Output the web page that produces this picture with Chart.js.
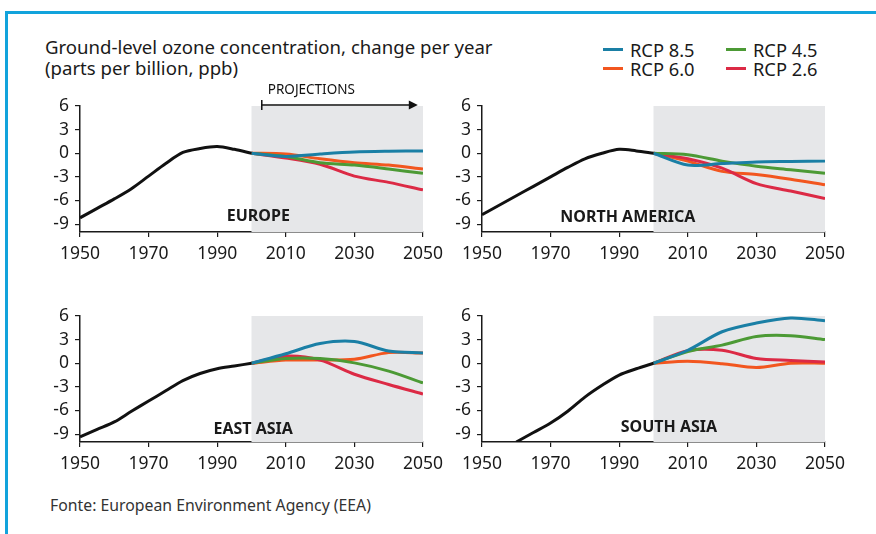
<!DOCTYPE html>
<html>
<head>
<meta charset="utf-8">
<script src="https://cdn.jsdelivr.net/npm/chart.js@4/dist/chart.umd.min.js"></script>
<style>
  html, body { margin: 0; padding: 0; background: #fff; }
  body { width: 876px; height: 534px; position: relative; overflow: hidden;
         font-family: 'Noto Sans', sans-serif; color: #1a1a1a; }
  .frame-top { position: absolute; left: 5px; top: 11px; right: 0; height: 3px; background: #12a3dc; }
  .frame-left { position: absolute; left: 5px; top: 11px; bottom: 0; width: 3px; background: #12a3dc; }
  .title { position: absolute; left: 45px; top: 36px; font-size: 18.6px; line-height: 21px; }
  .legend { position: absolute; top: 40px; font-size: 18.3px; line-height: 19px; }
  .legend div { display: flex; align-items: center; height: 19px; }
  .legend span.sw { display: inline-block; width: 20px; height: 3px; margin-right: 7px; }
  .box { position: absolute; width: 420px; }
  .top-row { top: 70px; height: 208px; }
  .bottom-row { top: 290px; height: 198px; }
  .source { position: absolute; left: 50px; top: 494px; font-size: 15.8px; color: #333; }
</style>
</head>
<body>
<div class="frame-top"></div>
<div class="frame-left"></div>
<div class="title">Ground-level ozone concentration, change per year<br>(parts per billion, ppb)</div>
<div class="legend" style="left:603px">
  <div><span class="sw" style="background:#1a7fa5"></span>RCP 8.5</div>
  <div><span class="sw" style="background:#f2561f"></span>RCP 6.0</div>
</div>
<div class="legend" style="left:726px">
  <div><span class="sw" style="background:#4c9a35"></span>RCP 4.5</div>
  <div><span class="sw" style="background:#dc2a45"></span>RCP 2.6</div>
</div>
<div class="box top-row" style="left:30px"><canvas id="c-europe"></canvas></div>
<div class="box top-row" style="left:432px"><canvas id="c-namerica"></canvas></div>
<div class="box bottom-row" style="left:30px"><canvas id="c-easia"></canvas></div>
<div class="box bottom-row" style="left:432px"><canvas id="c-sasia"></canvas></div>
<div class="source">Fonte: European Environment Agency (EEA)</div>

<script>
'use strict';

// ── Data ──────────────────────────────────────────────────────────────────────

const histYears = [1950, 1955, 1960, 1965, 1970, 1975, 1980, 1985, 1990, 1995, 2000];
const projYears = [2000, 2010, 2020, 2030, 2040, 2050];
const yTicks    = [-9, -6, -3, 0, 3, 6];
const xTicks    = [1950, 1970, 1990, 2010, 2030, 2050];

const europeHist   = [-8.2, -7.0, -5.8, -4.5, -2.9, -1.3, 0.1, 0.6, 0.85, 0.5, 0];
const europeRcp85  = [0, -0.4, -0.1, 0.15, 0.25, 0.3];
const europeRcp60  = [0, -0.1, -0.7, -1.2, -1.5, -2.0];
const europeRcp45  = [0, -0.4, -1.2, -1.5, -2.0, -2.55];
const europeRcp26  = [0, -0.6, -1.4, -2.9, -3.7, -4.65];

const namericaHist  = [-7.8, -6.6, -5.4, -4.2, -3.0, -1.8, -0.7, 0.0, 0.5, 0.3, 0];
const namericaRcp85 = [0, -1.5, -1.3, -1.1, -1.05, -1.0];
const namericaRcp60 = [0, -1.0, -2.3, -2.7, -3.3, -4.0];
const namericaRcp45 = [0, -0.2, -1.0, -1.65, -2.1, -2.55];
const namericaRcp26 = [0, -0.7, -1.9, -3.85, -4.8, -5.75];

const easiaHist  = [-9.35, -8.4, -7.45, -6.1, -4.8, -3.5, -2.2, -1.3, -0.7, -0.35, 0];
const easiaRcp85 = [0, 1.2, 2.5, 2.75, 1.55, 1.3];
const easiaRcp60 = [0, 0.4, 0.4, 0.5, 1.35, 1.3];
const easiaRcp45 = [0, 0.6, 0.6, 0.05, -1.0, -2.5];
const easiaRcp26 = [0, 0.9, 0.4, -1.4, -2.7, -3.9];

const sasiaHist  = [null, null, -10, -8.8, -7.6, -6.1, -4.3, -2.8, -1.5, -0.7, 0];
const sasiaRcp85 = [0, 1.65, 4.0, 5.1, 5.75, 5.4];
const sasiaRcp60 = [0, 0.25, -0.05, -0.55, 0.0, 0.0];
const sasiaRcp45 = [0, 1.5, 2.3, 3.4, 3.5, 3.0];
const sasiaRcp26 = [0, 1.6, 1.65, 0.6, 0.35, 0.15];

const colors = { rcp85: '#1a7fa5', rcp60: '#f2561f', rcp45: '#4c9a35', rcp26: '#dc2a45' };

// ── Plugins ───────────────────────────────────────────────────────────────────

// grey projections band, drawn from 2000 to 2050 through the x scale
const bandPlugin = {
  id: 'band',
  beforeDatasetsDraw(chart) {
    const { ctx, chartArea, scales: { x } } = chart;
    ctx.save();
    ctx.fillStyle = '#e6e7e9';
    const x0 = x.getPixelForValue(2000), x1 = x.getPixelForValue(2050);
    ctx.fillRect(x0, chartArea.top, x1 - x0, chartArea.bottom - chartArea.top);
    ctx.restore();
  }
};

const labelPlugin = {
  id: 'regionLabel',
  afterDatasetsDraw(chart, args, opts) {
    const { ctx, scales: { x, y } } = chart;
    ctx.save();
    ctx.font = 'bold 16px "Noto Sans"';
    ctx.fillStyle = '#1a1a1a';
    ctx.textAlign = 'center';
    ctx.textBaseline = 'middle';
    ctx.fillText(opts.text, x.getPixelForValue(opts.at), y.getPixelForValue(opts.level));

    if (opts.arrow) {
      const ax0 = x.getPixelForValue(2003), ax1 = x.getPixelForValue(2048.5);
      const ay = chart.chartArea.top - 1;
      ctx.strokeStyle = '#111';
      ctx.fillStyle = '#111';
      ctx.lineWidth = 1.5;
      ctx.beginPath();
      ctx.moveTo(ax0, ay - 5); ctx.lineTo(ax0, ay + 5);
      ctx.moveTo(ax0, ay); ctx.lineTo(ax1 - 8, ay);
      ctx.stroke();
      ctx.beginPath();
      ctx.moveTo(ax1, ay); ctx.lineTo(ax1 - 9, ay - 4.5); ctx.lineTo(ax1 - 9, ay + 4.5);
      ctx.closePath(); ctx.fill();
      ctx.font = '13.5px "Noto Sans"';
      ctx.textAlign = 'left';
      ctx.fillText('PROJECTIONS', ax0 + 6, ay - 15);
    }
    ctx.restore();
  }
};

// ── Charts ────────────────────────────────────────────────────────────────────

function line(years, data, color, width) {
  return {
    data: years.map((yr, i) => ({ x: yr, y: data[i] })),
    borderColor: color,
    borderWidth: width,
    pointRadius: 0,
    tension: 0.3,
    fill: false,
    spanGaps: false
  };
}

function drawRegion(id, padTop, hist, r85, r60, r45, r26, label) {
  const datasets = [
    line(histYears, hist, '#111', 3),
    line(projYears, r85, colors.rcp85, 3),
    line(projYears, r45, colors.rcp45, 3),
    line(projYears, r26, colors.rcp26, 3),
    line(projYears, r60, colors.rcp60, 3)
  ];
  const tickFont = { family: 'Noto Sans', size: 17.5 };
  new Chart(document.getElementById(id), {
    type: 'line',
    data: { datasets },
    plugins: [bandPlugin, labelPlugin],
    options: {
      responsive: true,
      maintainAspectRatio: false,
      animation: false,
      events: [],
      layout: { padding: { top: padTop, right: 27, bottom: 0, left: 0 } },
      plugins: {
        legend: { display: false },
        tooltip: { enabled: false },
        regionLabel: label
      },
      scales: {
        x: {
          type: 'linear', min: 1950, max: 2050,
          afterBuildTicks: s => { s.ticks = xTicks.map(v => ({ value: v })); },
          afterFit: s => { s.height = 46; },
          ticks: { color: '#1a1a1a', font: tickFont, padding: 7, maxRotation: 0,
                   callback: v => String(v) },
          grid: { drawOnChartArea: false, color: '#1a1a1a', tickLength: 5, lineWidth: 1.2 },
          border: { color: '#1a1a1a', width: 1.5 }
        },
        y: {
          min: -10, max: 6,
          afterBuildTicks: s => { s.ticks = yTicks.map(v => ({ value: v })); },
          afterFit: s => { s.width = 50; },
          ticks: { color: '#1a1a1a', font: tickFont, padding: 6 },
          grid: { drawOnChartArea: false, color: '#1a1a1a', tickLength: 5, lineWidth: 1.2 },
          border: { color: '#1a1a1a', width: 1.5 }
        }
      }
    }
  });
}

drawRegion('c-europe',   36, europeHist,   europeRcp85,   europeRcp60,   europeRcp45,   europeRcp26,
  { text: 'EUROPE', at: 2002, level: -8.0, arrow: true });
drawRegion('c-namerica', 36, namericaHist, namericaRcp85, namericaRcp60, namericaRcp45, namericaRcp26,
  { text: 'NORTH AMERICA', at: 1992.5, level: -8.2 });
drawRegion('c-easia',    26, easiaHist,    easiaRcp85,    easiaRcp60,    easiaRcp45,    easiaRcp26,
  { text: 'EAST ASIA', at: 2000.5, level: -8.4 });
drawRegion('c-sasia',    26, sasiaHist,    sasiaRcp85,    sasiaRcp60,    sasiaRcp45,    sasiaRcp26,
  { text: 'SOUTH ASIA', at: 2004.5, level: -8.1 });
</script>
</body>
</html>
